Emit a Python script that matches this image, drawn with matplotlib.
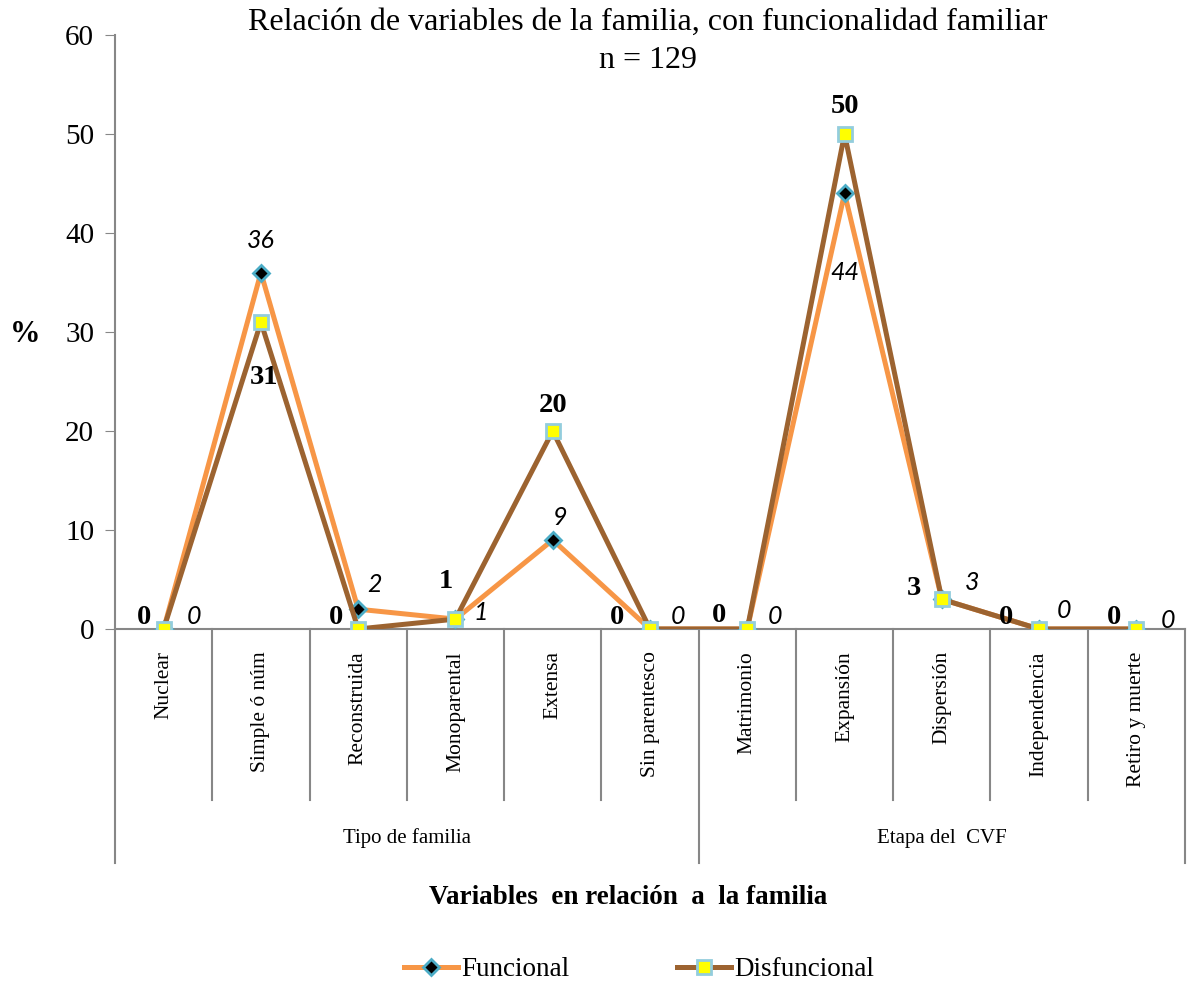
import matplotlib
matplotlib.use("Agg")
import matplotlib.pyplot as plt

# Data
categories = ["Nuclear", "Simple ó núm", "Reconstruida", "Monoparental", "Extensa",
              "Sin parentesco", "Matrimonio", "Expansión", "Dispersión",
              "Independencia", "Retiro y muerte"]
groups = ["Tipo de familia", "Etapa del  CVF"]
group_sizes = [6, 5]
funcional = [0, 36, 2, 1, 9, 0, 0, 44, 3, 0, 0]
disfuncional = [0, 31, 0, 1, 20, 0, 0, 50, 3, 0, 0]
yticks = [0, 10, 20, 30, 40, 50, 60]

SERIF = "Liberation Serif"
SANS_IT = "Lato"

fig = plt.figure(figsize=(11.88, 9.85), dpi=100)
ax = fig.add_axes([115 / 1188, 1 - 629 / 985, 1070 / 1188, 594 / 985])

x = list(range(len(categories)))
ax.plot(x, funcional, color="#F79646", lw=3.6, marker="D", ms=8.5,
        mfc="black", mec="#4BACC6", mew=2, zorder=3, label="Funcional")
ax.plot(x, disfuncional, color="#9C6330", lw=3.6, marker="s", ms=10.5,
        mfc="#FFFF00", mec="#93CDDD", mew=2, zorder=4, label="Disfuncional")

ax.set_xlim(-0.5, len(categories) - 0.5)
ax.set_ylim(0, 60)
ax.set_yticks(yticks)
ax.set_yticklabels([str(v) for v in yticks], fontfamily=SERIF, fontsize=21)
ax.tick_params(axis="y", length=7, color="#878787", pad=8)
for s in ("top", "right"):
    ax.spines[s].set_visible(False)
for s in ("left", "bottom"):
    ax.spines[s].set_color("#878787")
    ax.spines[s].set_linewidth(1.5)

# category labels
ax.set_xticks(x)
ax.set_xticklabels(categories, rotation=90, fontfamily=SERIF, fontsize=15.5, va="top")
ax.tick_params(axis="x", length=0, pad=16)

# two-tier separators below the axis
tr = ax.get_xaxis_transform()
inner = -171 / 594
outer = -234 / 594
bounds = [i - 0.5 for i in range(len(categories) + 1)]
group_edges = [-0.5]
for n in group_sizes:
    group_edges.append(group_edges[-1] + n)
for b in bounds:
    low = outer if b in group_edges else inner
    ax.plot([b, b], [0, low], transform=tr, color="#878787", lw=1.5, clip_on=False)

start = -0.5
for g, n in zip(groups, group_sizes):
    ax.text(start + n / 2, -209 / 594, g, transform=tr, ha="center", va="center",
            fontfamily=SERIF, fontsize=15)
    start += n

# value labels
f_off = [(22, 9), (0, 23), (12, 18), (18, 5), (5, 16), (20, 9),
         (20, 9), (0, -57), (22, 12), (18, 13), (23, 6)]
d_off = [(-14, 8), (2, -40), (-16, 8), (-7, 27), (0, 18), (-24, 8),
         (-20, 10), (0, 20), (-20, 8), (-24, 8), (-16, 8)]
for i in x:
    ax.annotate(str(funcional[i]), (i, funcional[i]), textcoords="offset points",
                xytext=f_off[i], ha="center", va="center", fontfamily=SANS_IT,
                fontstyle="italic", fontsize=18, zorder=6, annotation_clip=False)
    ax.annotate(str(disfuncional[i]), (i, disfuncional[i]), textcoords="offset points",
                xytext=d_off[i], ha="center", va="center", fontfamily=SERIF,
                fontweight="bold", fontsize=20.5, zorder=6, annotation_clip=False)

# titles and axis labels
fig.text(648 / 1188, 1 - 22 / 985, "Relación de variables de la familia, con funcionalidad familiar",
         ha="center", va="center", fontfamily=SERIF, fontsize=23)
fig.text(648 / 1188, 1 - 60 / 985, "n = 129", ha="center", va="center",
         fontfamily=SERIF, fontsize=23)
fig.text(25 / 1188, 1 - 335 / 985, "%", ha="center", va="center",
         fontfamily=SERIF, fontweight="bold", fontsize=22)
fig.text(628 / 1188, 1 - 897 / 985, "Variables  en relación  a  la familia", ha="center",
         va="center", fontfamily=SERIF, fontweight="bold", fontsize=19.5)

leg = fig.legend(loc="center", bbox_to_anchor=(639 / 1188, 1 - 970 / 985), ncol=2,
                 frameon=False, handlelength=2.0, columnspacing=4.0, handletextpad=0.1,
                 prop={"family": SERIF, "size": 19.5})

fig.savefig("out.png", dpi=100)
